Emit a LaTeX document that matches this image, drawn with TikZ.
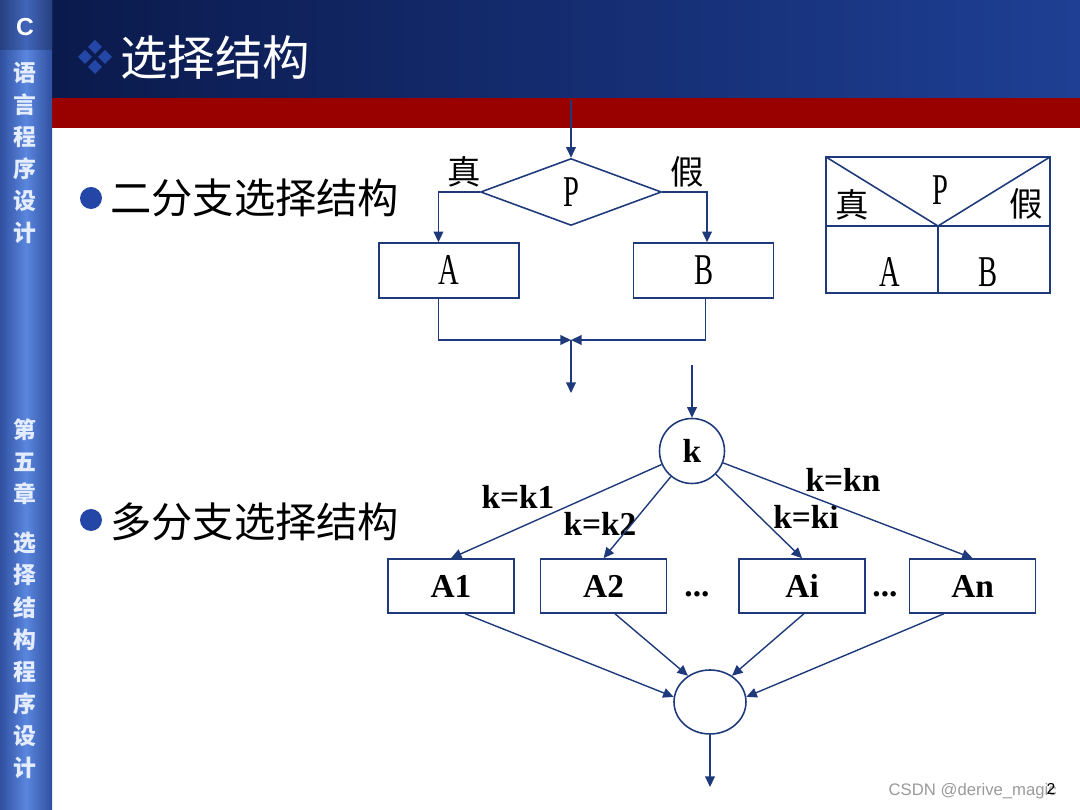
\documentclass[tikz,border=0pt]{standalone}
\usepackage{fontspec}
\setmainfont{Liberation Serif}
\setsansfont{Liberation Sans}
\newfontfamily\cjk{Noto Sans CJK SC}
\usetikzlibrary{positioning, arrows.meta, shapes.geometric}
\definecolor{navy}{HTML}{1F3A7A}
\definecolor{headdark}{HTML}{0B1A4C}
\definecolor{headlight}{HTML}{1E3F94}
\definecolor{band}{HTML}{990000}
\definecolor{side}{HTML}{5A86DE}
\definecolor{sidedark}{HTML}{3050A0}
\definecolor{sidetext}{HTML}{E4ECFF}
\definecolor{dot}{HTML}{2446A6}
\definecolor{mark}{HTML}{9A9A9A}
\newcommand{\narrowtxt}[1]{\scalebox{0.65}[1]{#1}}

\begin{document}
\begin{tikzpicture}[x=0.02cm, y=-0.02cm,
    box/.style={draw=navy, line width=0.9pt, minimum width=2.8cm,
      minimum height=1.1cm, inner sep=0pt},
    kbox/.style={draw=navy, line width=0.9pt, minimum width=2.52cm,
      minimum height=1.08cm, inner sep=0pt,
      font=\bfseries\fontsize{19}{19}\selectfont},
    pfeil/.style={-{Triangle[width=5.5pt,length=6pt]}, navy, line width=0.8pt},
    linie/.style={navy, line width=0.9pt},
    tall/.style={font=\fontsize{25}{25}\selectfont},
    zh/.style={font=\cjk\fontsize{19}{19}\selectfont},
    lab/.style={font=\bfseries\fontsize{19}{19}\selectfont},
    side/.style={text=sidetext, font=\cjk\bfseries\fontsize{13}{13}\selectfont}]
  \useasboundingbox (0,0) rectangle (1080,810);

  % Kopfzeile und Seitenleiste
  \shade[left color=headdark, right color=headlight] (52,0) rectangle (1080,98);
  \fill[band] (52,98) rectangle (1080,128);
  \shade[left color=sidedark, right color=sidedark, middle color=side] (0,0) rectangle (52,810);
  \shade[left color=sidedark!80!black, right color=sidedark!80!black, middle color=sidedark!60!side] (0,0) rectangle (52,50);
  \node[text=white, font=\sffamily\bfseries\fontsize{14}{14}\selectfont] (c) at (25,27) {C};
  \foreach \ch [count=\i] in {语,言,程,序,设,计}
    \node[side] (s\i) at (25,41+32*\i) {\ch};
  \foreach \ch [count=\i] in {第,五,章}
    \node[side] (t\i) at (25,398+32*\i) {\ch};
  \foreach \ch [count=\i] in {选,择,结,构,程,序,设,计}
    \node[side] (u\i) at (25,511+32.1*\i) {\ch};

  % Titel
  \foreach \cx/\cy in {95/47, 85/57, 105/57, 95/67}
    \fill[dot] (\cx,\cy-7) -- (\cx+7,\cy) -- (\cx,\cy+7) -- (\cx-7,\cy) -- cycle;
  \node[anchor=west, text=white, font=\cjk\fontsize{27}{27}\selectfont] (titel) at (114,58) {选择结构};

  \fill[dot] (91,198) circle (11);
  \node[anchor=west, font=\cjk\fontsize{23.5}{23.5}\selectfont] (zwei) at (104,198) {二分支选择结构};
  \fill[dot] (91,520) circle (11);
  \node[anchor=west, font=\cjk\fontsize{23.5}{23.5}\selectfont] (viel) at (104,522) {多分支选择结构};

  % zweiseitige Auswahl
  \node[diamond, draw=navy, line width=0.9pt, minimum width=3.62cm, minimum height=1.34cm,
    inner sep=0pt, aspect=2.7, tall] (P) at (571,192) {\narrowtxt{P}};
  \node[zh] (wahr) at (464,172) {真};
  \node[zh] (falsch) at (687,172) {假};
  \node[box, tall] (A) at (449,270.5) {\narrowtxt{A}};
  \node[box, tall, right=2.26cm of A] (B) {\narrowtxt{B}};
  \coordinate (ein) at (571,100);
  \coordinate (treff) at (571,340);
  \coordinate (aus) at (571,393);
  \draw[pfeil] (ein) -- (P.north);
  \draw[pfeil] (P.west) -| ([xshift=-6pt]A.north);
  \draw[pfeil] (P.east) -| ([xshift=2pt]B.north);
  \draw[pfeil] ([xshift=-6pt]A.south) |- (treff);
  \draw[pfeil] ([xshift=1pt]B.south) |- (treff);
  \draw[pfeil] (treff) -- (aus);

  % Struktogramm
  \draw[linie] (826,157) rectangle (1050,293);
  \draw[linie] (826,226) -- (1050,226);
  \draw[linie] (938,226) -- (938,293);
  \draw[linie] (826,157) -- (938,226) -- (1050,157);
  \node[tall] (nsP) at (940,190) {\narrowtxt{P}};
  \node[zh] (nsW) at (852,205) {真};
  \node[zh] (nsF) at (1026,204) {假};
  \node[tall] (nsA) at (890,272) {\narrowtxt{A}};
  \node[tall] (nsB) at (988,272) {\narrowtxt{B}};

  % mehrseitige Auswahl
  \coordinate (kein) at (692,365);
  \node[circle, draw=navy, line width=0.9pt, minimum size=1.3cm, inner sep=0pt, lab] (k) at (692,451) {k};
  \node[kbox] (A1) at (451,586) {A1};
  \node[kbox, right=0.5cm of A1] (A2) {A2};
  \node[kbox, right=1.42cm of A2] (Ai) {Ai};
  \node[kbox, right=0.86cm of Ai] (An) {An};
  \node[lab] (pkt1) at (697,594) {...};
  \node[lab] (pkt2) at (885,594) {...};
  \node[lab] (l1) at (518,497) {k=k1};
  \node[lab] (l2) at (600,524) {k=k2};
  \node[lab] (li) at (806,517) {k=ki};
  \node[lab] (ln) at (843,480) {k=kn};
  \node[ellipse, draw=navy, line width=0.9pt, minimum width=1.44cm, minimum height=1.28cm] (sammel) at (710,702) {};
  \coordinate (ende) at (710,787);
  \draw[pfeil] (kein) -- (k);
  \foreach \z in {A1,A2,Ai,An}
    \draw[pfeil] (k) -- (\z.north);
  \draw[pfeil] ([xshift=8pt]A1.south) -- (sammel.172);
  \draw[pfeil] ([xshift=6.5pt]A2.south) -- (sammel.130);
  \draw[pfeil] ([xshift=1pt]Ai.south) -- (sammel.50);
  \draw[pfeil] ([xshift=-16.4pt]An.south) -- (sammel.8);
  \draw[pfeil] (sammel) -- (ende);

  \node[anchor=east, text=mark, font=\sffamily\fontsize{9.5}{9.5}\selectfont] (csdn) at (1063,791) {CSDN @derive\_magic};
  \node[font=\sffamily\fontsize{9}{9}\selectfont] (seite) at (1051,789) {2};
\end{tikzpicture}
\end{document}
